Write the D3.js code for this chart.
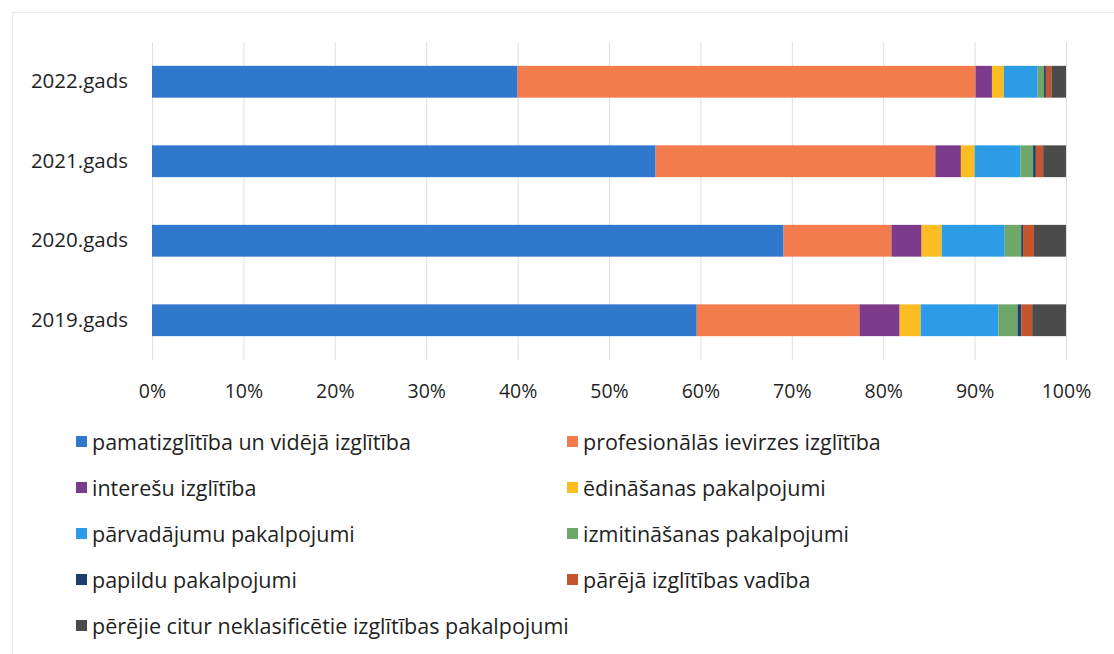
<!DOCTYPE html>
<html>
<head>
<meta charset="utf-8">
<script src="https://cdn.jsdelivr.net/npm/d3@7"></script>
<style>
  body { margin: 0; background: #fff; }
  text { font-family: "Open Sans", "Noto Sans", sans-serif; fill: #1f1f1f; }
</style>
</head>
<body>
<script>
var years = ["2022.gads", "2021.gads", "2020.gads", "2019.gads"];

var series = [
  "pamatizglītība un vidējā izglītība",
  "profesionālās ievirzes izglītība",
  "interešu izglītība",
  "ēdināšanas pakalpojumi",
  "pārvadājumu pakalpojumi",
  "izmitināšanas pakalpojumi",
  "papildu pakalpojumi",
  "pārējā izglītības vadība",
  "pērējie citur neklasificētie izglītības pakalpojumi"
];

var colors = ["#2f78cc", "#f27c4c", "#7d3b8c", "#fbbd22", "#2c9ce6",
              "#6fa66a", "#1d3f70", "#c4552e", "#4b4b4b"];

// percent shares per year, in series order
var y2022 = [40.0, 50.1, 1.8, 1.3, 3.7, 0.7, 0.2, 0.6, 1.6];
var y2021 = [55.1, 30.6, 2.8, 1.5, 5.0, 1.4, 0.3, 0.8, 2.5];
var y2020 = [69.1, 11.8, 3.3, 2.2, 6.9, 1.8, 0.2, 1.2, 3.5];
var y2019 = [59.6, 17.8, 4.4, 2.3, 8.5, 2.1, 0.4, 1.2, 3.7];

var tickValues = [0, 10, 20, 30, 40, 50, 60, 70, 80, 90, 100];

var width = 1114, height = 654;
var plot_left = 152, plot_right = 1066, plot_top = 42, plot_bottom = 360;

var rows = [y2022, y2021, y2020, y2019].map(function(vals, i) {
  var o = { year: years[i] };
  series.forEach(function(s, j) { o[s] = vals[j]; });
  return o;
});

var stack = d3.stack().keys(series);
var layers = stack(rows);

var x = d3.scaleLinear().domain([0, 100]).range([plot_left, plot_right]);
var y = d3.scaleBand().domain(years).range([plot_top, plot_bottom]).paddingInner(0.6).paddingOuter(0.3);
var color = d3.scaleOrdinal().domain(series).range(colors);

var svg = d3.select("body").append("svg")
  .attr("width", width).attr("height", height);

// chart frame
svg.append("rect")
  .attr("x", 12.5).attr("y", 12.5)
  .attr("width", 1130).attr("height", 660)
  .attr("fill", "none").attr("stroke", "#ececec");

// gridlines
svg.append("g").selectAll("line").data(tickValues).enter().append("line")
  .attr("x1", function(d) { return x(d) + 0.5; })
  .attr("x2", function(d) { return x(d) + 0.5; })
  .attr("y1", plot_top).attr("y2", plot_bottom)
  .attr("stroke", "#e0e0e0").attr("stroke-width", 1);

// bars
var lg = svg.append("g").selectAll("g").data(layers).enter().append("g")
  .attr("fill", function(d) { return color(d.key); });
lg.selectAll("rect").data(function(d) { return d; }).enter().append("rect")
  .attr("x", function(d) { return x(d[0]); })
  .attr("width", function(d) { return x(d[1]) - x(d[0]); })
  .attr("y", function(d) { return y(d.data.year); })
  .attr("height", y.bandwidth());

// x axis labels
var xAxis = d3.axisBottom(x).tickValues(tickValues)
  .tickFormat(function(d) { return d + "%"; }).tickSize(0).tickPadding(0);
var xg = svg.append("g").attr("transform", "translate(0," + 384 + ")").call(xAxis);
xg.select(".domain").remove();
xg.selectAll("text").style("font-size", "19.5px").attr("fill", "#1f1f1f")
  .attr("font-family", null);

// y axis labels
var yAxis = d3.axisLeft(y).tickSize(0).tickPadding(24);
var yg = svg.append("g").attr("transform", "translate(" + plot_left + ",0)").call(yAxis);
yg.select(".domain").remove();
yg.selectAll("text").style("font-size", "20.5px").attr("fill", "#1f1f1f")
  .attr("font-family", null);

// legend
var leg = svg.append("g").selectAll("g").data(series).enter().append("g")
  .attr("transform", function(d, i) {
    var col = i % 2, row = Math.floor(i / 2);
    return "translate(" + (col ? 567 : 76) + "," + (442 + row * 46) + ")";
  });
leg.append("rect").attr("x", 0).attr("y", -6).attr("width", 11).attr("height", 11)
  .attr("fill", function(d) { return color(d); });
leg.append("text").attr("x", 16).attr("y", 0).attr("dy", "0.35em")
  .style("font-size", "21.5px").text(function(d) { return d; });
</script>
</body>
</html>
